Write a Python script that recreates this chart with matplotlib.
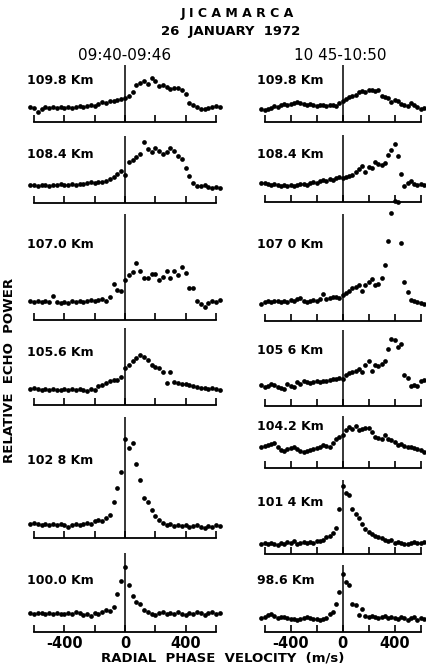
import numpy as np
import matplotlib.pyplot as plt

# radial phase velocity grid (m/s)
velocity = [-625, -600, -575, -550, -525, -500, -475, -450, -425, -400,
            -375, -350, -325, -300, -275, -250, -225, -200, -175, -150,
            -125, -100, -75, -50, -25, 0, 25, 50, 75, 100,
            125, 150, 175, 200, 225, 250, 275, 300, 325, 350,
            375, 400, 425, 450, 475, 500, 525, 550, 575, 600, 625]

# relative echo power, 09:40-09:46
left_1098 = [15, 14, 10, 13, 15, 14, 15, 14, 15, 14, 15, 14, 15, 16, 15, 16, 17,
             16, 18, 20, 19, 21, 21, 22, 23, 24, 26, 30, 37, 39, 41, 38, 44, 41,
             36, 37, 35, 33, 34, 34, 32, 28, 19, 17, 15, 13, 13, 14, 15, 16, 15]
left_1084 = [18, 18, 17, 18, 18, 17, 18, 18, 19, 18, 18, 19, 18, 19, 19, 20, 21,
             20, 21, 21, 22, 24, 26, 29, 32, 28, 41, 43, 46, 49, 61, 54, 51, 55,
             52, 49, 51, 55, 52, 47, 44, 35, 27, 20, 17, 17, 18, 16, 15, 16, 15]
left_1070 = [19, 18, 19, 18, 19, 18, 24, 18, 17, 18, 17, 19, 18, 19, 18, 19, 20,
             19, 20, 21, 19, 23, 36, 30, 29, 40, 45, 48, 57, 49, 42, 42, 46, 46,
             40, 43, 49, 42, 49, 45, 53, 47, 32, 32, 19, 16, 13, 17, 19, 18, 20]
left_1056 = [16, 17, 16, 15, 16, 15, 16, 15, 15, 16, 15, 16, 15, 16, 15, 14, 16,
             15, 19, 20, 22, 24, 25, 25, 28, 37, 40, 44, 47, 50, 48, 45, 40, 38,
             37, 33, 22, 33, 23, 22, 21, 21, 20, 19, 18, 17, 17, 16, 17, 16, 15]
left_1028 = [14, 15, 14, 13, 14, 13, 14, 13, 14, 13, 11, 13, 14, 13, 14, 15, 14,
             17, 18, 17, 20, 23, 36, 50, 66, 99, 90, 95, 74, 58, 40, 36, 28, 22,
             18, 15, 13, 14, 12, 13, 12, 13, 11, 12, 13, 11, 10, 12, 11, 13, 12]
left_1000 = [19, 18, 19, 19, 18, 19, 18, 19, 18, 18, 19, 18, 20, 19, 17, 18, 16,
             19, 18, 20, 22, 21, 25, 38, 51, 65, 47, 36, 30, 28, 22, 20, 18, 17,
             19, 20, 18, 19, 18, 20, 18, 17, 19, 18, 20, 19, 17, 19, 20, 18, 19]

# relative echo power, 10:45-10:50
right_1098 = [13, 12, 13, 14, 16, 15, 17, 18, 17, 18, 19, 20, 19, 18, 17, 18, 17,
              16, 17, 17, 16, 17, 17, 16, 19, 21, 23, 25, 26, 27, 30, 31, 30, 32,
              32, 31, 32, 26, 25, 24, 20, 22, 21, 18, 17, 16, 19, 17, 15, 13, 14]
right_1084 = [19, 19, 18, 17, 18, 17, 16, 17, 16, 17, 16, 17, 18, 18, 17, 19, 20,
              19, 21, 22, 21, 23, 22, 24, 25, 24, 25, 26, 27, 30, 33, 36, 30, 35,
              34, 40, 38, 37, 39, 47, 52, 58, 46, 28, 16, 19, 21, 18, 17, 18, 17]
right_1070 = [17, 19, 20, 19, 20, 20, 19, 20, 19, 21, 20, 22, 23, 20, 19, 20, 21,
              20, 22, 27, 22, 23, 24, 24, 23, 26, 28, 30, 33, 34, 36, 30, 36, 39,
              42, 36, 37, 43, 56, 80, 108, 120, 119, 78, 39, 29, 21, 20, 19, 18, 17]
right_1056 = [21, 19, 20, 22, 21, 19, 18, 17, 22, 20, 19, 24, 22, 25, 24, 23, 24,
              25, 24, 25, 25, 26, 27, 27, 28, 27, 31, 33, 34, 35, 37, 34, 41, 45,
              35, 41, 40, 42, 45, 56, 66, 65, 58, 61, 31, 28, 20, 21, 20, 25, 26]
right_1042 = [21, 22, 23, 24, 25, 21, 18, 17, 19, 20, 21, 19, 17, 16, 17, 18, 19,
              20, 21, 23, 22, 21, 25, 29, 31, 33, 38, 41, 39, 42, 38, 39, 40, 40,
              36, 31, 30, 29, 33, 29, 28, 26, 23, 24, 22, 21, 21, 20, 19, 18, 16]
right_1014 = [10, 11, 10, 11, 10, 9, 11, 10, 12, 11, 13, 10, 11, 12, 11, 12, 11,
              13, 13, 14, 17, 18, 21, 26, 45, 68, 61, 59, 45, 40, 36, 30, 25, 22,
              20, 18, 17, 16, 14, 13, 14, 11, 12, 11, 10, 10, 11, 12, 11, 11, 12]
right_0986 = [14, 15, 17, 18, 16, 14, 15, 15, 14, 13, 13, 12, 13, 14, 15, 14, 13,
              13, 12, 13, 14, 18, 20, 28, 40, 58, 50, 47, 28, 27, 17, 23, 16, 15,
              16, 15, 14, 15, 16, 14, 15, 14, 13, 15, 14, 12, 14, 15, 12, 14, 13]

left_labels = ['109.8 Km', '108.4 Km', '107.0 Km', '105.6 Km', '102 8 Km', '100.0 Km']
right_labels = ['109.8 Km', '108.4 Km', '107 0 Km', '105 6 Km', '104.2 Km',
                '101 4 Km', '98.6 Km']
left_series = [left_1098, left_1084, left_1070, left_1056, left_1028, left_1000]
right_series = [right_1098, right_1084, right_1070, right_1056, right_1042,
                right_1014, right_0986]

W, H = 426, 668
fig = plt.figure(figsize=(W / 100, H / 100), dpi=100)

# pixel layout: (top of zero line, baseline, label y)
left_rows = [(65, 121.5, 81), (136, 203, 155), (214, 320, 244),
             (328, 405, 352), (417, 537.5, 460), (553, 632, 580)]
right_rows = [(65, 122, 80), (135, 202, 155), (214, 321, 244), (330, 405.5, 351),
              (416, 467.5, 426), (480, 554, 503), (565, 632, 581)]


def panel(x0, width, top, base, values, label, lab_x, lab_y, last):
    ax = fig.add_axes([x0 / W, 1 - base / H, width / W, (base - top) / H])
    ax.set_xlim(-640, 640)
    ax.set_ylim(0, base - top)
    ax.plot(velocity, values, 'o', color='k', ms=3.4, mec='none', clip_on=False)
    ax.axvline(0, color='k', lw=1.1)
    for s in ['top', 'right', 'left']:
        ax.spines[s].set_visible(False)
    ax.spines['bottom'].set_bounds(-600, 600)
    ax.spines['bottom'].set_linewidth(1.3)
    ax.set_yticks([])
    ax.set_xticks([-600, -400, -200, 0, 200, 400, 600])
    if last:
        ax.set_xticklabels(['', '-400', '', '0', '', '400', ''],
                           fontsize=10.5, fontweight='bold')
    else:
        ax.set_xticklabels([])
    ax.tick_params(axis='x', direction='in', length=5, width=1.2, pad=3)
    ax.patch.set_visible(False)
    fig.text(lab_x / W, 1 - lab_y / H, label, ha='left', va='center',
             fontsize=9, fontweight='bold')


for i, (top, base, ly) in enumerate(left_rows):
    panel(28, 194, top, base, left_series[i], left_labels[i], 27, ly,
          i == len(left_rows) - 1)

for i, (top, base, ly) in enumerate(right_rows):
    panel(259.5, 166.4, top, base, right_series[i], right_labels[i], 257, ly,
          i == len(right_rows) - 1)

fig.text(237 / W, 1 - 14 / H, 'J I C A M A R C A', ha='center', va='center',
         fontsize=9, fontweight='bold')
fig.text(231 / W, 1 - 32 / H, '26  JANUARY  1972', ha='center', va='center',
         fontsize=9.5, fontweight='bold')
fig.text(125 / W, 1 - 55 / H, '09:40-09:46', ha='center', va='center',
         fontsize=11)
fig.text(340 / W, 1 - 55 / H, '10 45-10:50', ha='center', va='center',
         fontsize=11)
fig.text(223 / W, 1 - 658 / H, 'RADIAL  PHASE  VELOCITY  (m/s)', ha='center',
         va='center', fontsize=9.5, fontweight='bold')
fig.text(10 / W, 1 - 370 / H, 'RELATIVE  ECHO  POWER', ha='center', va='center',
         rotation=90, fontsize=9.5, fontweight='bold')

fig.savefig('out.png', dpi=100)
